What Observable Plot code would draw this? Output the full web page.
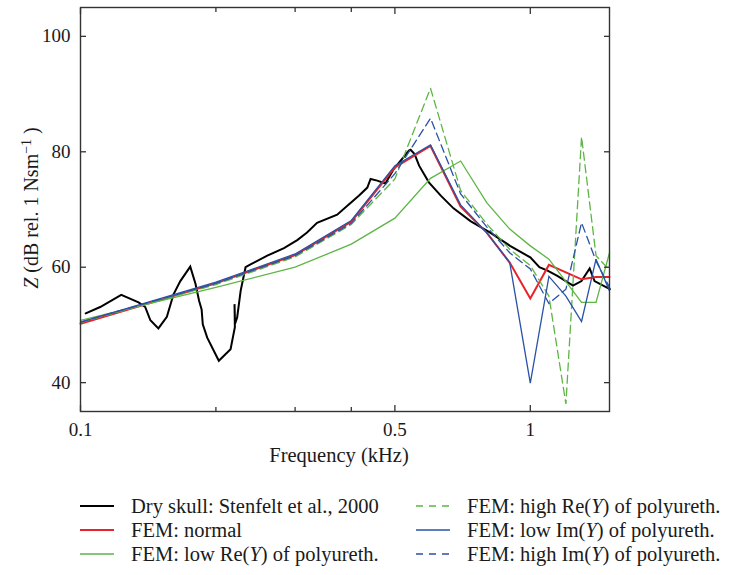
<!DOCTYPE html>
<html><head><meta charset="utf-8">
<script src="https://cdn.jsdelivr.net/npm/d3@7"></script>
<script src="https://cdn.jsdelivr.net/npm/@observablehq/plot@0.6"></script>
<style>
body{margin:0;background:#fff;font-family:"Liberation Serif","Times New Roman",Times,Tinos,"DejaVu Serif","Noto Serif",FreeSerif,Georgia,serif;color:#1a1a1a;}
#wrap{position:relative;width:731px;height:575px;overflow:hidden;}
.item{position:absolute;display:flex;align-items:center;height:24px;white-space:nowrap;font-size:20.5px;}
.item svg{margin-right:17px;}
svg text{font-family:"Liberation Serif","Times New Roman",Times,Tinos,"DejaVu Serif","Noto Serif",FreeSerif,Georgia,serif;}
</style>
</head><body><div id="wrap"><div id="chart"></div></div>
<script>
// FEM sampling frequencies (kHz)
const femFreq = [0.1,0.2,0.3,0.4,0.5,0.6,0.7,0.8,0.9,1.0,1.1,1.2,1.3,1.4,1.5];
// FEM series (dB rel. 1 Ns/m)
const femNormal = [50.2,57.2,62.1,67.9,77.3,81.0,70.5,66.0,60.8,54.6,60.4,59.1,57.9,58.3,58.3];
const femLowRe  = [50.8,56.5,60.0,64.0,68.5,75.4,78.4,71.2,66.6,63.7,61.4,57.5,53.9,53.9,62.5];
const femHighRe = [50.4,57.0,61.8,67.4,75.3,91.0,73.3,67.5,63.1,60.3,55.0,36.3,82.6,62.0,59.5];
const femLowIm  = [50.5,57.4,62.3,68.1,77.6,81.2,70.8,66.0,60.8,39.9,58.4,55.0,50.6,61.4,55.9];
const femHighIm = [50.5,57.2,62.0,67.6,76.2,85.8,72.7,67.0,62.5,59.7,53.7,56.2,67.7,61.1,56.5];
// Dry skull measurement (Stenfelt et al., 2000)
const skullFreq = [0.1027,0.1106,0.1232,0.1346,0.1393,0.143,0.149,0.1556,0.161,0.1667,0.1754,0.1802,0.1835,0.1859,0.187,0.1913,0.203,0.2156,0.2204,0.2200,0.2206,0.2230,0.227,0.2328,0.2388,0.243,0.2602,0.2834,0.3033,0.3189,0.3357,0.3721,0.3914,0.4157,0.4342,0.4415,0.4568,0.4763,0.497,0.5373,0.542,0.553,0.566,0.595,0.6324,0.675,0.7362,0.8145,0.9016,1.0,1.0477,1.0924,1.1485,1.2443,1.2995,1.3552,1.3893,1.503];
const skullZ    = [52.0,53.1,55.2,53.9,53.1,50.8,49.4,51.4,55.3,57.6,60.1,57.1,54.2,52.7,50.1,47.8,43.8,45.8,49.6,53.6,50.2,51.3,55.9,60.0,60.5,60.8,62.0,63.3,64.7,66.0,67.7,69.1,70.6,72.4,73.8,75.3,75.0,74.5,77.0,80.2,80.35,79.6,77.6,74.7,72.4,70.2,68.0,66.0,63.7,61.7,60.0,59.4,58.5,56.8,57.6,59.8,57.6,56.2];
// tick labels
const xTickLabels = [0.1,0.5,1];
const xMajorTicks = [0.1,0.5,1];
const xMinorTicks = [0.2,0.3,0.4];
const yTicks = [40,60,80,100];

const series = [
  {name:"Dry skull: Stenfelt et al., 2000", f:skullFreq, z:skullZ, color:"#000000", width:2, dash:null},
  {name:"FEM: normal", f:femFreq, z:femNormal, color:"#e8232a", width:2, dash:null},
  {name:"FEM: low Re(<i>Y</i>) of polyureth.", f:femFreq, z:femLowRe, color:"#5db545", width:1.3, dash:null},
  {name:"FEM: high Re(<i>Y</i>) of polyureth.", f:femFreq, z:femHighRe, color:"#5db545", width:1.3, dash:"8,4.5"},
  {name:"FEM: low Im(<i>Y</i>) of polyureth.", f:femFreq, z:femLowIm, color:"#2a52a6", width:1.3, dash:null},
  {name:"FEM: high Im(<i>Y</i>) of polyureth.", f:femFreq, z:femHighIm, color:"#2a52a6", width:1.3, dash:"8,4.5"}
];

const lineMarks = series.map(s => Plot.line(s.f.map((f,i)=>({f, z:s.z[i]})), {
  x:"f", y:"z", stroke:s.color, strokeWidth:s.width,
  strokeDasharray:s.dash ?? undefined, strokeLinejoin:"miter", strokeMiterlimit:3
}));

const FONT = '"Liberation Serif","Times New Roman",Times,Tinos,"DejaVu Serif","Noto Serif",FreeSerif,Georgia,serif';
const axisColor = "#333";
const chart = Plot.plot({
  width:731, height:480,
  marginLeft:80, marginRight:122, marginTop:7, marginBottom:69,
  x:{type:"log", domain:[0.1,1.5]},
  y:{domain:[35,105]},
  style:{fontFamily:FONT, fontSize:"19px", color:"#1a1a1a", background:"#fff"},
  marks:[
    ...lineMarks,
    Plot.frame({stroke:axisColor, strokeWidth:1.4}),
    Plot.axisX({anchor:"bottom", ticks:xTickLabels, tickSize:0, tickPadding:11, tickFormat:d=>String(d), label:null, fontSize:19}),
    Plot.axisX({anchor:"bottom", ticks:xMajorTicks, tickSize:-6, tickFormat:()=>"", label:null, stroke:axisColor, strokeWidth:1.3}),
    Plot.axisX({anchor:"bottom", ticks:xMinorTicks, tickSize:-4, tickFormat:()=>"", label:null, stroke:axisColor, strokeWidth:1.3}),
    Plot.axisX({anchor:"top", ticks:xMajorTicks, tickSize:-6, tickFormat:()=>"", label:null, stroke:axisColor, strokeWidth:1.3}),
    Plot.axisX({anchor:"top", ticks:xMinorTicks, tickSize:-4, tickFormat:()=>"", label:null, stroke:axisColor, strokeWidth:1.3}),
    Plot.axisY({anchor:"left", ticks:yTicks, tickSize:0, tickPadding:10, label:null, fontSize:19}),
    Plot.axisY({anchor:"left", ticks:yTicks, tickSize:-6, tickFormat:()=>"", label:null, stroke:axisColor, strokeWidth:1.3}),
    Plot.axisY({anchor:"right", ticks:yTicks, tickSize:-6, tickFormat:()=>"", label:null, stroke:axisColor, strokeWidth:1.3})
  ]
});
document.getElementById("chart").appendChild(chart);

const svg = d3.select(chart);
svg.append("text").attr("x", 339).attr("y", 462).attr("text-anchor","middle")
  .attr("font-size", 20.5).attr("fill","#1a1a1a").attr("font-family", FONT).text("Frequency (kHz)");
const yl = svg.append("text").attr("transform","translate(38,208) rotate(-90)")
  .attr("text-anchor","middle").attr("font-size",20).attr("fill","#1a1a1a").attr("font-family", FONT);
yl.append("tspan").attr("font-style","italic").text("Z");
yl.append("tspan").text(" (dB rel. 1 Nsm");
yl.append("tspan").attr("baseline-shift","super").attr("font-size",14).text("\u22121");
yl.append("tspan").text(" )");

// Legend (HTML, below the SVG)
const wrap = document.getElementById("wrap");
const colX = [80, 416];
const rowY = [494, 518, 542];
series.forEach((s, i) => {
  const col = Math.floor(i / 3), row = i % 3;
  const div = document.createElement("div");
  div.className = "item";
  div.style.left = colX[col] + "px";
  div.style.top = rowY[row] + "px";
  div.innerHTML = `<svg width="34" height="10"><line x1="0" y1="5" x2="34" y2="5" stroke="${s.color}" stroke-width="${s.width}" ${s.dash ? 'stroke-dasharray="7,6"' : ''}/></svg><span>${s.name}</span>`;
  wrap.appendChild(div);
});
</script>
</body></html>
